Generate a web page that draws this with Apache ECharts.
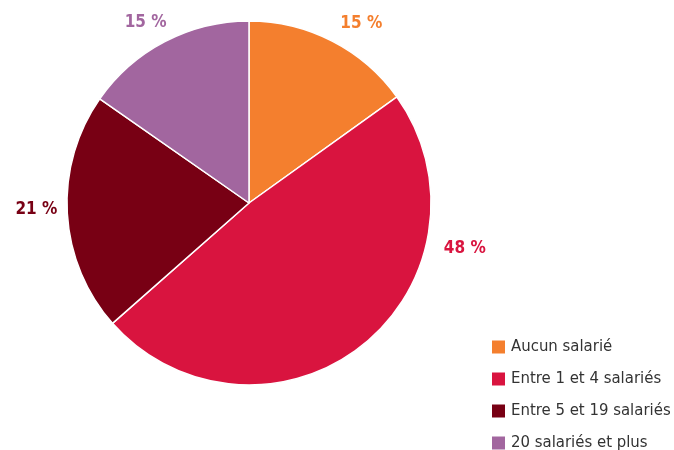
<!DOCTYPE html>
<html>
<head>
<meta charset="utf-8">
<script src="https://cdn.jsdelivr.net/npm/echarts@6/dist/echarts.min.js"></script>
<style>
  html, body { margin: 0; padding: 0; background: #fff; }
  #main { width: 674px; height: 450px; }
</style>
</head>
<body>
<div id="main"></div>
<script>
// parts
var categories = ['Aucun salarié', 'Entre 1 et 4 salariés', 'Entre 5 et 19 salariés', '20 salariés et plus'];
var shares = [15.1, 48.4, 21.2, 15.3];
var shownLabels = ['15 %', '48 %', '21 %', '15 %'];
var colors = ['#F47F2E', '#D9143F', '#780014', '#A2669F'];
// petits décalages des étiquettes
var labelShift = [[-6, 0], [64, -112], [15, -5], [16, -1]];

var font = '"Liberation Sans Narrow", "DejaVu Sans Condensed", sans-serif';

var pieData = [];
for (var i = 0; i < categories.length; i++) {
	pieData.push({
		name: categories[i],
		value: shares[i],
		itemStyle: { color: colors[i] },
		label: { color: colors[i], offset: labelShift[i] }
	});
}

var myChart = echarts.init(document.getElementById('main'));
var option = {
	animation: false,
	legend: {
		orient: 'vertical',
		left: 490,
		top: 338,
		height: 200,
		padding: 0,
		itemWidth: 15,
		itemHeight: 15,
		itemGap: 14,
		icon: 'rect',
		textStyle: { fontFamily: font, fontSize: 16.6, lineHeight: 18, color: '#333' },
		data: categories
	},
	series: [{
		type: 'pie',
		center: [249, 203],
		radius: 182,
		startAngle: 90,
		clockwise: true,
		avoidLabelOverlap: false,
		itemStyle: { borderColor: '#fff', borderWidth: 1.5 },
		label: {
			show: true,
			position: 'outside',
			fontFamily: font,
			fontSize: 17,
			fontWeight: 'bold',
			formatter: function (p) { return shownLabels[p.dataIndex]; }
		},
		labelLine: { show: false, length: 20, length2: 0 },
		emphasis: { disabled: true },
		data: pieData
	}]
};
myChart.setOption(option);
</script>
</body>
</html>
